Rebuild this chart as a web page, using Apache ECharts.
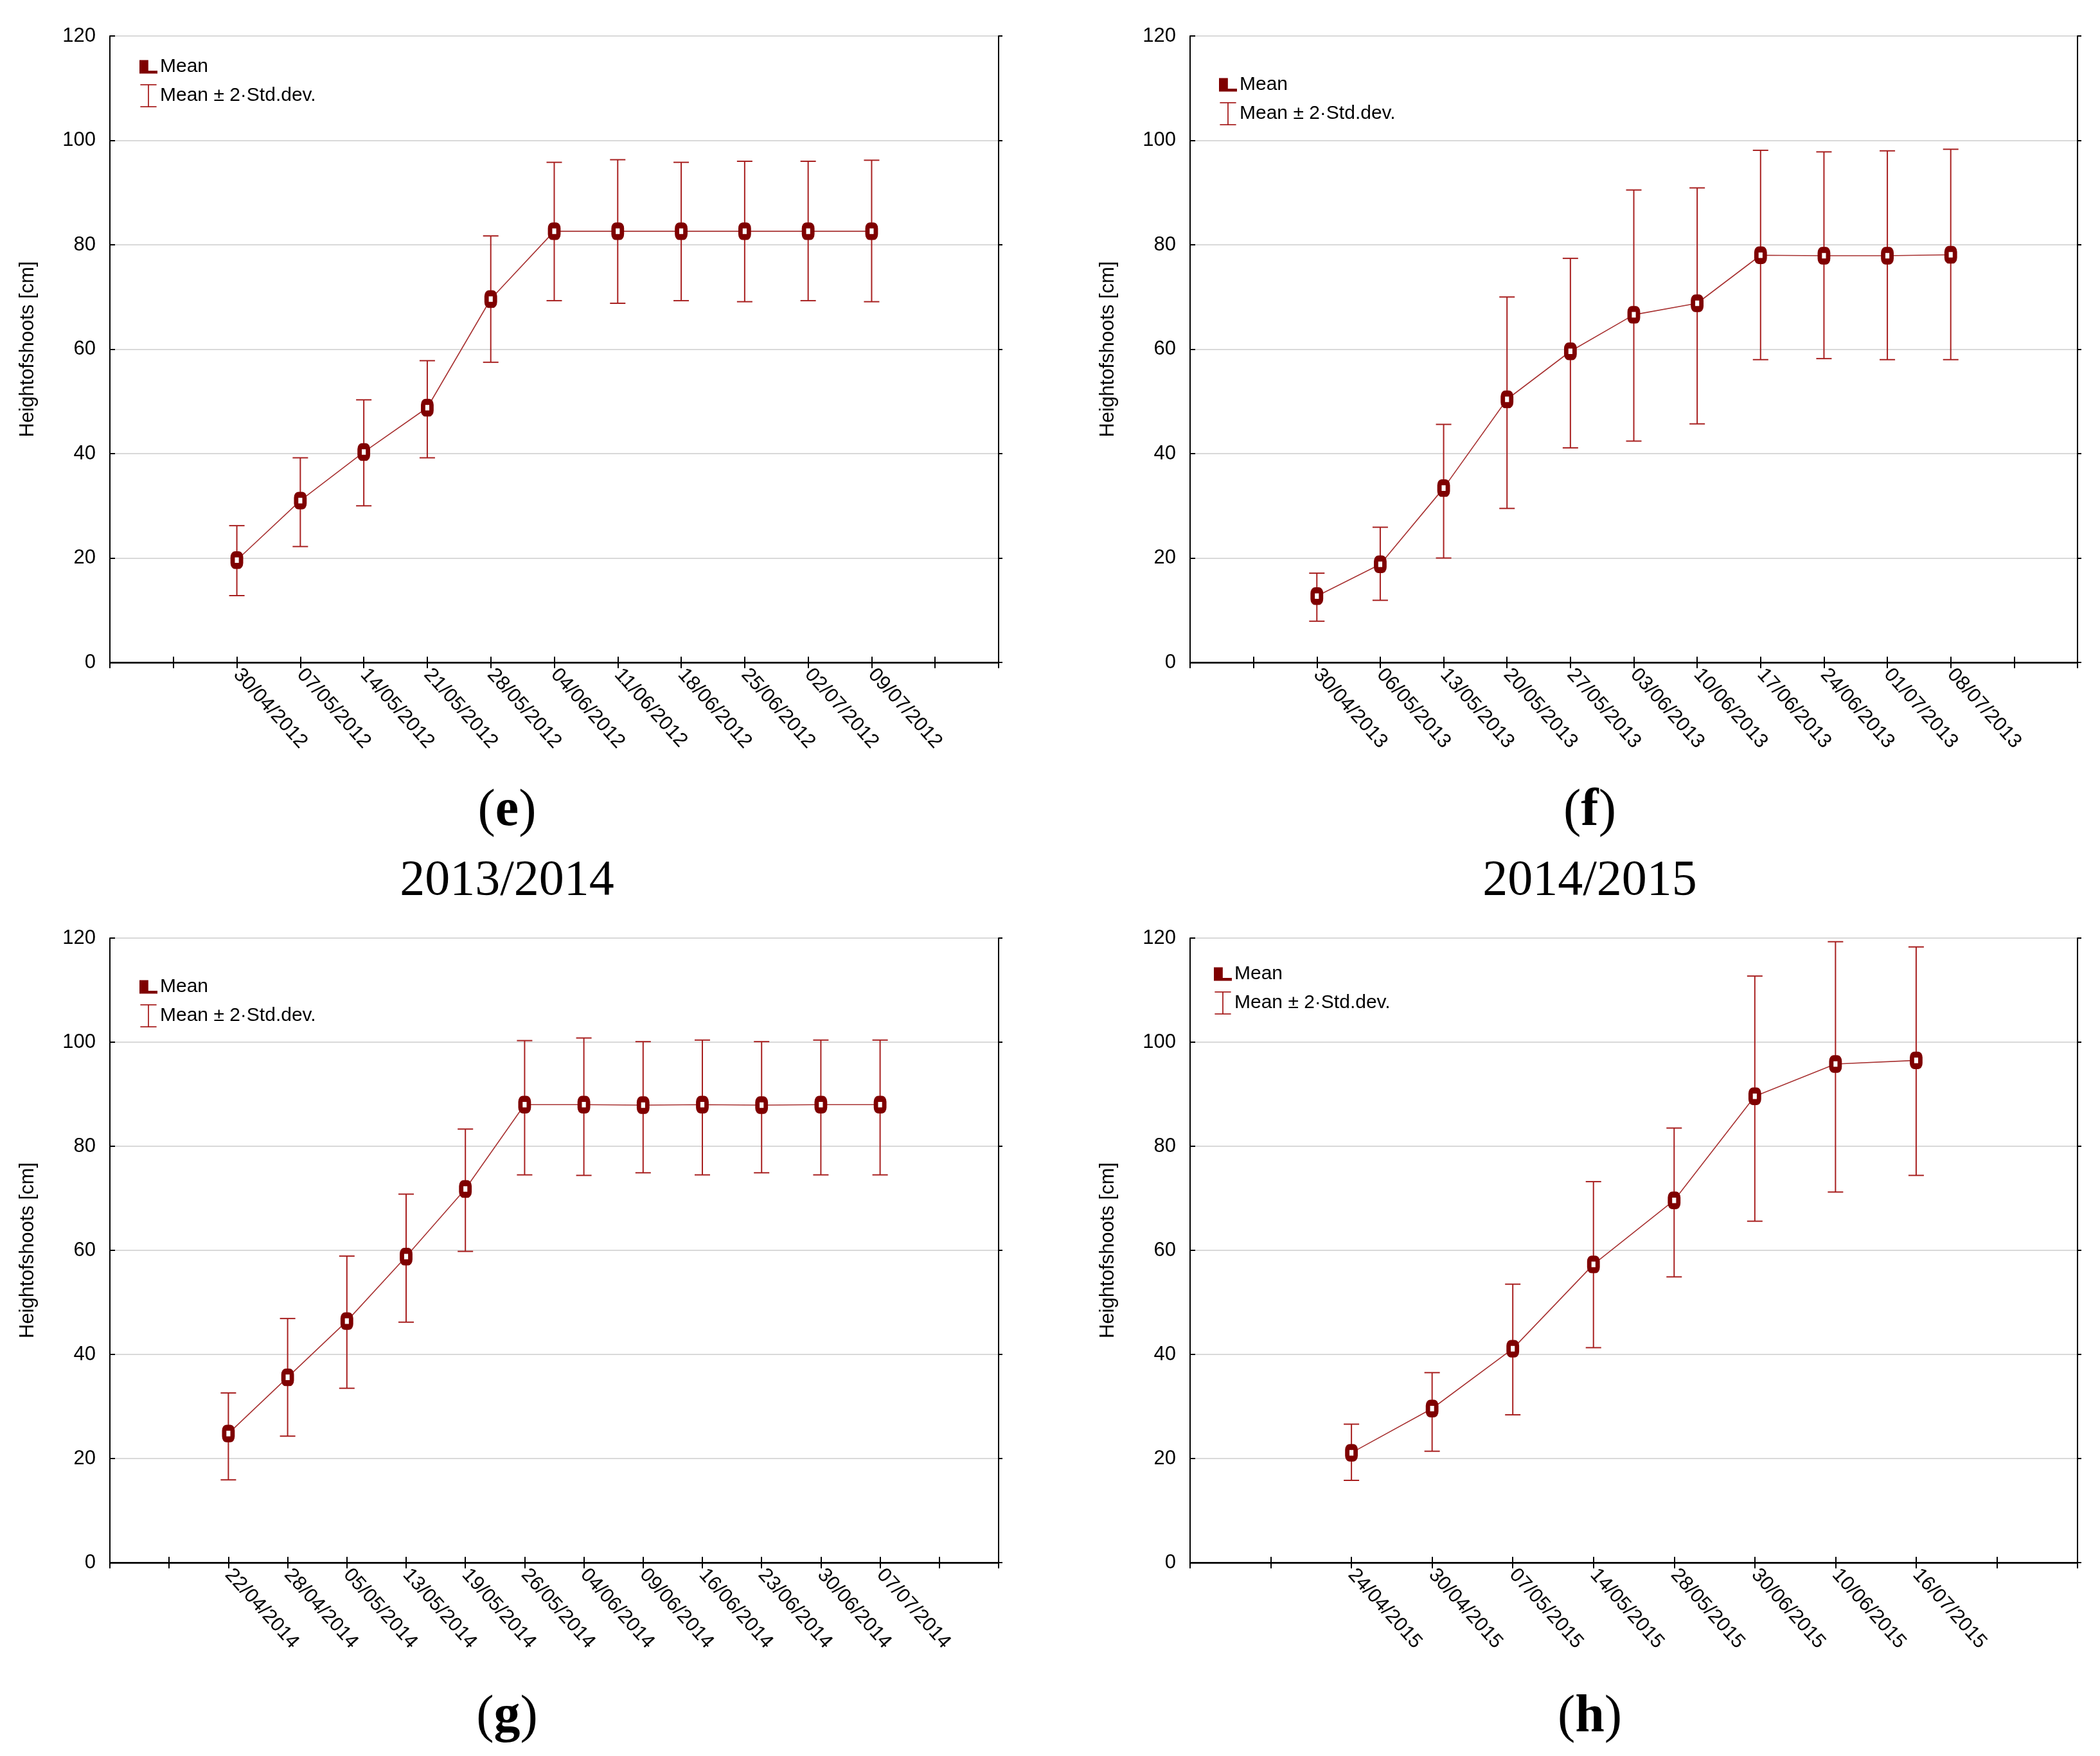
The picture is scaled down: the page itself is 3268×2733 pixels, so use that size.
<!DOCTYPE html>
<html>
<head>
<meta charset="utf-8">
<script src="https://cdn.jsdelivr.net/npm/echarts@6/dist/echarts.min.js"></script>
<style>
html,body{margin:0;padding:0;background:#fff;}
#chart{width:3268px;height:2733px;}
</style>
</head>
<body>
<div id="chart"></div>
<script>
// ---- Data ----
const datesE = ['30/04/2012','07/05/2012','14/05/2012','21/05/2012','28/05/2012','04/06/2012','11/06/2012','18/06/2012','25/06/2012','02/07/2012','09/07/2012'];
const meanE  = [19.6, 31.0, 40.3, 48.8, 69.6, 82.6, 82.6, 82.6, 82.6, 82.6, 82.6];
const lowE   = [12.8, 22.2, 30.0, 39.2, 57.5, 69.3, 68.8, 69.3, 69.1, 69.3, 69.1];
const highE  = [26.2, 39.2, 50.3, 57.8, 81.7, 95.8, 96.3, 95.8, 96.0, 96.0, 96.2];

const datesF = ['30/04/2013','06/05/2013','13/05/2013','20/05/2013','27/05/2013','03/06/2013','10/06/2013','17/06/2013','24/06/2013','01/07/2013','08/07/2013'];
const meanF  = [12.7, 18.8, 33.4, 50.4, 59.6, 66.6, 68.8, 78.0, 77.9, 77.9, 78.1];
const lowF   = [7.9, 11.9, 20.0, 29.5, 41.1, 42.4, 45.7, 58.0, 58.2, 58.0, 58.0];
const highF  = [17.1, 25.9, 45.6, 70.0, 77.4, 90.5, 90.9, 98.1, 97.8, 98.0, 98.3];

const datesG = ['22/04/2014','28/04/2014','05/05/2014','13/05/2014','19/05/2014','26/05/2014','04/06/2014','09/06/2014','16/06/2014','23/06/2014','30/06/2014','07/07/2014'];
const meanG  = [24.8, 35.6, 46.4, 58.8, 71.8, 88.0, 88.0, 87.9, 88.0, 87.9, 88.0, 88.0];
const lowG   = [15.9, 24.3, 33.5, 46.2, 59.8, 74.5, 74.4, 74.9, 74.5, 74.9, 74.5, 74.5];
const highG  = [32.6, 46.9, 58.9, 70.8, 83.3, 100.3, 100.8, 100.1, 100.4, 100.1, 100.4, 100.4];

const datesH = ['24/04/2015','30/04/2015','07/05/2015','14/05/2015','28/05/2015','30/06/2015','10/06/2015','16/07/2015'];
const meanH  = [21.1, 29.6, 41.1, 57.3, 69.6, 89.6, 95.8, 96.5];
const lowH   = [15.8, 21.4, 28.4, 41.3, 54.9, 65.6, 71.2, 74.4];
const highH  = [26.6, 36.5, 53.5, 73.2, 83.5, 112.7, 119.3, 118.3];

const yTicks = [0, 20, 40, 60, 80, 100, 120];
const yName = 'Heightofshoots [cm]';
const legendNames = ['Mean', 'Mean \u00b1 2\u00b7Std.dev.'];
const captions = [
  {letter: 'e', year: ''},
  {letter: 'f', year: ''},
  {letter: 'g', year: '2013/2014'},
  {letter: 'h', year: '2014/2015'}
];

// ---- Layout ----
const panels = [
  {dates: datesE, mean: meanE, low: lowE, high: highE, grid: {left: 171, top: 56, width: 1383, height: 975}, legend: {left: 212, top: 84}, cap: {x: 789, y: 1263}, yearPos: null},
  {dates: datesF, mean: meanF, low: lowF, high: highF, grid: {left: 1852, top: 56, width: 1381, height: 975}, legend: {left: 1892, top: 112}, cap: {x: 2474, y: 1263}, yearPos: null},
  {dates: datesG, mean: meanG, low: lowG, high: highG, grid: {left: 171, top: 1460, width: 1383, height: 972}, legend: {left: 212, top: 1516}, cap: {x: 789, y: 2673}, yearPos: {x: 789, y: 1372}},
  {dates: datesH, mean: meanH, low: lowH, high: highH, grid: {left: 1852, top: 1460, width: 1381, height: 972}, legend: {left: 1884, top: 1496}, cap: {x: 2474, y: 2673}, yearPos: {x: 2474, y: 1372}}
];

const DARK = '#7f0000';
const LINE = '#a83232';
const BAR = '#a82020';
const FONT = "'Liberation Sans Narrow', 'Liberation Sans', Arial, sans-serif";

const grids = [], xAxes = [], yAxes = [], series = [], legends = [], graphics = [];

panels.forEach((p, i) => {
  const cats = ['', ''].concat(p.dates, ['', '']);
  grids.push(Object.assign({containLabel: false}, p.grid));
  // bottom axis
  xAxes.push({
    type: 'category', gridIndex: i, data: cats, boundaryGap: false, position: 'bottom',
    axisLine: {show: true, lineStyle: {color: '#000', width: 2.5}},
    axisTick: {show: true, inside: true, length: 9, interval: 0, lineStyle: {color: '#000', width: 2}},
    axisLabel: {interval: 0, rotate: -48, fontSize: 31, color: '#000', fontFamily: FONT, margin: 14},
    splitLine: {show: false}
  });
  // top axis (frame)
  xAxes.push({
    type: 'category', gridIndex: i, data: cats, boundaryGap: false, position: 'top',
    axisLine: {show: true, lineStyle: {color: '#000', width: 2}},
    axisTick: {show: true, inside: true, length: 9, interval: 0, lineStyle: {color: '#000', width: 2}},
    axisLabel: {show: false}, splitLine: {show: false}
  });
  yAxes.push({
    type: 'value', gridIndex: i, min: yTicks[0], max: yTicks[yTicks.length - 1], interval: yTicks[1] - yTicks[0],
    position: 'left', name: yName, nameLocation: 'middle', nameGap: 112, nameRotate: 90,
    nameTextStyle: {fontSize: 31, color: '#000', fontFamily: "'Liberation Sans', Arial, sans-serif"},
    axisLine: {show: true, lineStyle: {color: '#000', width: 2}},
    axisTick: {show: true, inside: true, length: 8, lineStyle: {color: '#000', width: 2}},
    axisLabel: {fontSize: 31, color: '#000', fontFamily: FONT, margin: 22},
    splitLine: {show: true, lineStyle: {color: '#d9d9d9', width: 2}}
  });
  yAxes.push({
    type: 'value', gridIndex: i, min: yTicks[0], max: yTicks[yTicks.length - 1], interval: yTicks[1] - yTicks[0],
    position: 'right',
    axisLine: {show: true, lineStyle: {color: '#000', width: 2}},
    axisTick: {show: true, inside: false, length: 6, lineStyle: {color: '#000', width: 2}},
    axisLabel: {show: false}, splitLine: {show: false}
  });

  const errData = p.mean.map((m, k) => [k + 2, p.low[k], p.high[k]]);
  series.push({
    name: legendNames[1], type: 'custom', xAxisIndex: 2 * i, yAxisIndex: 2 * i, z: 2,
    itemStyle: {color: BAR},
    renderItem: function (params, api) {
      const x = api.value(0);
      const lo = api.coord([x, api.value(1)]);
      const hi = api.coord([x, api.value(2)]);
      const hw = 12;
      const st = {stroke: BAR, lineWidth: 2};
      return {type: 'group', children: [
        {type: 'line', shape: {x1: lo[0], y1: lo[1], x2: hi[0], y2: hi[1]}, style: st},
        {type: 'line', shape: {x1: lo[0] - hw, y1: lo[1], x2: lo[0] + hw, y2: lo[1]}, style: st},
        {type: 'line', shape: {x1: hi[0] - hw, y1: hi[1], x2: hi[0] + hw, y2: hi[1]}, style: st}
      ]};
    },
    data: errData
  });
  series.push({
    name: legendNames[0], type: 'line', xAxisIndex: 2 * i, yAxisIndex: 2 * i, z: 3,
    data: ['-', '-'].concat(p.mean),
    symbol: 'roundRect', symbolSize: [13, 18],
    lineStyle: {color: LINE, width: 1.6},
    itemStyle: {color: '#fff', borderColor: DARK, borderWidth: 8},
    emphasis: {disabled: true}, animation: false
  });

  legends.push({
    left: p.legend.left, top: p.legend.top, orient: 'vertical', itemGap: 12, selectedMode: false,
    itemWidth: 26, itemHeight: 36,
    textStyle: {fontSize: 30, color: '#000', fontFamily: FONT},
    data: [
      {name: legendNames[0], icon: 'path://M0,0h5v7h6v1h-11z', itemStyle: {color: DARK}},
      {name: legendNames[1], icon: 'path://M0,0h14v1h-6.5v18h6.5v1h-14v-1h6.5v-18h-6.5z', itemStyle: {color: BAR}}
    ]
  });

  graphics.push({
    type: 'text', x: p.cap.x, y: p.cap.y,
    style: {
      text: '{p|(}{b|' + captions[i].letter + '}{p|)}',
      align: 'center', verticalAlign: 'middle',
      rich: {
        p: {fontSize: 82, fontFamily: "'Liberation Serif', 'DejaVu Serif', serif", fill: '#000', fontWeight: 'normal'},
        b: {fontSize: 82, fontFamily: "'Liberation Serif', 'DejaVu Serif', serif", fill: '#000', fontWeight: 'bold'}
      }
    }
  });
  if (p.yearPos) {
    graphics.push({
      type: 'text', x: p.yearPos.x, y: p.yearPos.y,
      style: {text: captions[i].year, align: 'center', verticalAlign: 'middle', fontSize: 78,
        fontFamily: "'Liberation Serif', 'DejaVu Serif', serif", fill: '#000'}
    });
  }
});

const chart = echarts.init(document.getElementById('chart'), null, {renderer: 'canvas'});
chart.setOption({
  backgroundColor: '#fff',
  animation: false,
  grid: grids, xAxis: xAxes, yAxis: yAxes, series: series, legend: legends, graphic: graphics
});
</script>
</body>
</html>
